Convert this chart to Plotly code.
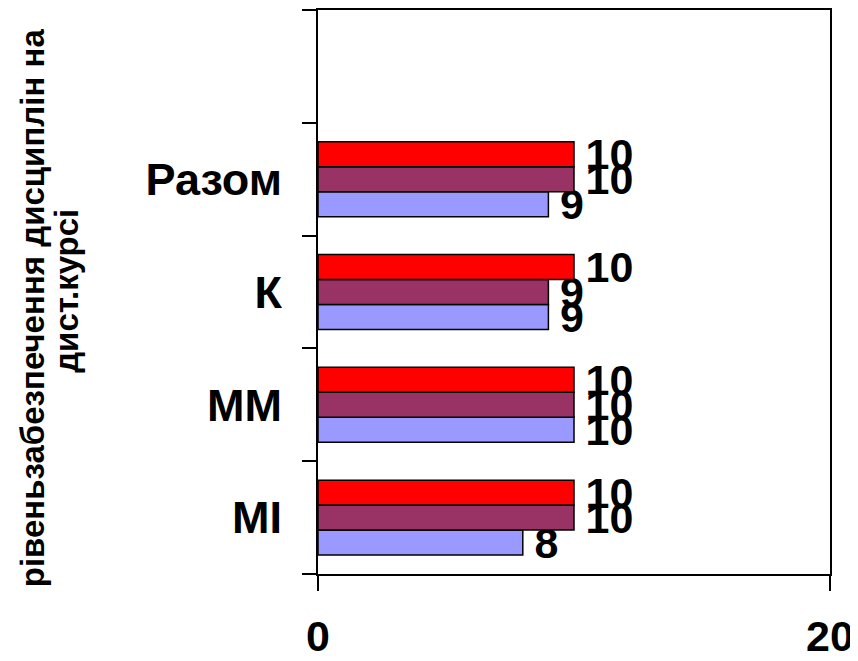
import plotly.graph_objects as go

categories = ["МІ", "ММ", "К", "Разом", " "]
series_names = ["Ряд1", "Ряд2", "Ряд3"]
blue_vals = [8, 10, 9, 9, None]
purple_vals = [10, 10, 9, 10, None]
red_vals = [10, 10, 10, 10, None]
colors = ["#9999FF", "#993366", "#FF0000"]
x_ticks = [0, 20]
y_title_lines = ["рівеньзабезпечення дисциплін на", "дист.курсі"]

FONT = "Liberation Sans, Arial, sans-serif"

fig = go.Figure()
for name, vals, col in zip(series_names, [blue_vals, purple_vals, red_vals], colors):
    fig.add_trace(go.Bar(
        y=categories, x=vals, orientation="h", name=name,
        marker=dict(color=col, line=dict(color="#000000", width=1.5)),
        texttemplate="\u2009%{x}", textposition="outside", cliponaxis=False,
        constraintext="none",
        textfont=dict(family=FONT, size=43, color="#000000", weight="bold"),
    ))

title_pos = [(-0.5586, 0.473), (-0.4903, 0.502)]
annotations = []
for line, (ax_, ay_) in zip(y_title_lines, title_pos):
    annotations.append(dict(
        text=line, textangle=-90, showarrow=False,
        xref="paper", yref="paper", x=ax_, y=ay_,
        xanchor="center", yanchor="middle",
        font=dict(family=FONT, size=33, color="#000000", weight="bold"),
    ))

fig.update_layout(
    width=858, height=661,
    margin=dict(l=310, r=36, t=2, b=95, autoexpand=False),
    paper_bgcolor="white", plot_bgcolor="white",
    barmode="group", bargap=0.336, bargroupgap=0,
    showlegend=False,
    font=dict(family=FONT, color="#000000", weight="bold"),
    xaxis=dict(
        range=[0, 20], tickvals=x_ticks, ticktext=[str(v) for v in x_ticks],
        showgrid=False, zeroline=False, automargin=False,
        showline=True, linecolor="#000000", linewidth=2, mirror=True,
        ticks="outside", ticklen=15, tickwidth=2, tickcolor="#000000",
        tickfont=dict(family=FONT, size=43, color="#000000", weight="bold"),
        ticklabelstandoff=8,
    ),
    yaxis=dict(
        type="category", categoryorder="array", categoryarray=categories,
        range=[-0.5, 4.5], automargin=False,
        showgrid=False, zeroline=False,
        showline=True, linecolor="#000000", linewidth=2, mirror=True,
        ticks="outside", ticklen=14, tickwidth=2, tickcolor="#000000",
        tickson="boundaries",
        tickfont=dict(family=FONT, size=45, color="#000000", weight="bold"),
        ticklabelstandoff=25,
    ),
    annotations=annotations,
)

fig.write_html("out.html")
